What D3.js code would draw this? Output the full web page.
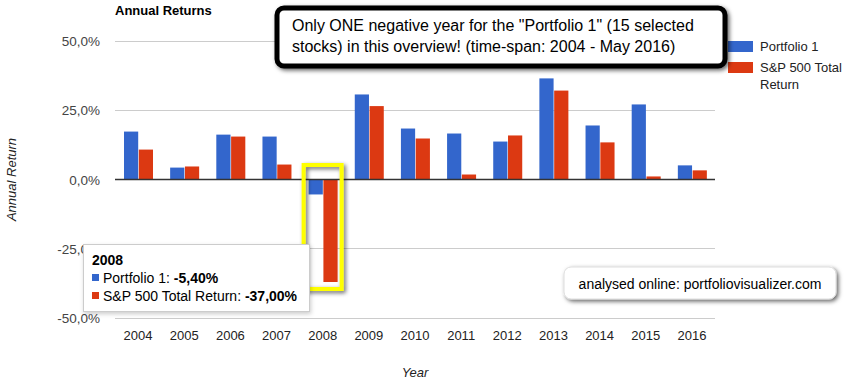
<!DOCTYPE html>
<html>
<head>
<meta charset="utf-8">
<script src="https://cdn.jsdelivr.net/npm/d3@7"></script>
<style>
body { margin: 0; background: #fff; }
svg { font-family: Arial, "Liberation Sans", sans-serif; }
</style>
</head>
<body>
<svg width="847" height="381"></svg>
<script>
var years = ["2004","2005","2006","2007","2008","2009","2010","2011","2012","2013","2014","2015","2016"];
var seriesNames = ["Portfolio 1", "S&P 500 Total Return"];
var portfolio = [17.3, 4.3, 16.2, 15.5, -5.4, 30.7, 18.4, 16.6, 13.7, 36.5, 19.5, 27.1, 5.1];
var sp500 = [10.8, 4.7, 15.5, 5.4, -37.0, 26.5, 14.8, 1.8, 15.9, 32.1, 13.4, 1.1, 3.3];
var yTicks = [-50, -25, 0, 25, 50];
var colors = ["#3366cc", "#dc3912"];

function pct(v, digits) {
	// comma decimal, plain hyphen for minus
	return d3.format("." + digits + "f")(v).replace(".", ",").replace("\u2212", "-") + "%";
}

function drawChart() {
	var svg = d3.select("svg");
	var left = 115, right = 715, top = 41, bottom = 318;

	var defs = svg.append("defs");
	var f = defs.append("filter").attr("id", "shadow").attr("x", "-10%").attr("y", "-20%").attr("width", "130%").attr("height", "160%");
	f.append("feDropShadow").attr("dx", 2).attr("dy", 2).attr("stdDeviation", 2).attr("flood-color", "#000").attr("flood-opacity", 0.6);
	var f2 = defs.append("filter").attr("id", "tipshadow").attr("x", "-10%").attr("y", "-20%").attr("width", "130%").attr("height", "160%");
	f2.append("feDropShadow").attr("dx", 1).attr("dy", 2).attr("stdDeviation", 2).attr("flood-color", "#000").attr("flood-opacity", 0.2);

	var x = d3.scaleBand().domain(years).range([left, right]).padding(0);
	var x1 = d3.scaleBand().domain(seriesNames).range([9, 38]).paddingInner(0.04);
	var y = d3.scaleLinear().domain([-50, 50]).range([bottom, top]);

	// gridlines
	svg.append("g").selectAll("line").data(yTicks).enter().append("line")
		.attr("x1", left).attr("x2", right)
		.attr("y1", function(d) { return y(d); }).attr("y2", function(d) { return y(d); })
		.attr("stroke", "#ccc")
		.attr("shape-rendering", "crispEdges");

	// y labels
	svg.append("g").selectAll("text").data(yTicks).enter().append("text")
		.attr("x", 100).attr("y", function(d) { return y(d) + 5; })
		.attr("text-anchor", "end").attr("font-size", 13.5).attr("fill", "#444")
		.text(function(d) { return pct(d, 1); });

	// x labels
	svg.append("g").selectAll("text").data(years).enter().append("text")
		.attr("x", function(d) { return x(d) + x.bandwidth() / 2; }).attr("y", 340)
		.attr("text-anchor", "middle").attr("font-size", 13).attr("fill", "#222")
		.text(function(d) { return d; });

	// bars
	var data = [];
	for (var i = 0; i < years.length; i++) {
		data.push({ year: years[i], s: seriesNames[0], v: portfolio[i], c: colors[0] });
		data.push({ year: years[i], s: seriesNames[1], v: sp500[i], c: colors[1] });
	}
	svg.append("g").selectAll("rect").data(data).enter().append("rect")
		.attr("x", function(d) { return x(d.year) + x1(d.s); })
		.attr("width", x1.bandwidth())
		.attr("y", function(d) { return y(Math.max(0, d.v)); })
		.attr("height", function(d) { return Math.abs(y(d.v) - y(0)); })
		.attr("fill", function(d) { return d.c; });

	// zero line on top
	svg.append("line").attr("x1", left).attr("x2", right).attr("y1", y(0)).attr("y2", y(0))
		.attr("stroke", "#333").attr("stroke-width", 1.5);

	// title
	svg.append("text").attr("x", 115).attr("y", 15).attr("font-size", 13).attr("font-weight", "bold")
		.attr("fill", "#000").text("Annual Returns");

	// axis titles
	svg.append("text").attr("transform", "translate(16," + y(0) + ") rotate(-90)")
		.attr("text-anchor", "middle").attr("font-size", 13).attr("font-style", "italic").attr("fill", "#222")
		.text("Annual Return");
	svg.append("text").attr("x", 415).attr("y", 377).attr("text-anchor", "middle")
		.attr("font-size", 13).attr("font-style", "italic").attr("fill", "#222").text("Year");

	// legend
	var lg = svg.append("g");
	lg.append("rect").attr("x", 728).attr("y", 41).attr("width", 25).attr("height", 11).attr("fill", colors[0]);
	lg.append("text").attr("x", 760).attr("y", 51).attr("font-size", 13).attr("fill", "#222").text(seriesNames[0]);
	lg.append("rect").attr("x", 728).attr("y", 62).attr("width", 25).attr("height", 11).attr("fill", colors[1]);
	lg.append("text").attr("x", 760).attr("y", 72).attr("font-size", 13).attr("fill", "#222").text("S&P 500 Total");
	lg.append("text").attr("x", 760).attr("y", 89).attr("font-size", 13).attr("fill", "#222").text("Return");

	// yellow highlight around 2008
	var hx = x("2008");
	svg.append("rect").attr("x", hx + 4).attr("y", 165).attr("width", 38).attr("height", 124)
		.attr("fill", "none").attr("stroke", "#ffff00").attr("stroke-width", 4)
		.attr("filter", "url(#shadow)");

	// callout box
	var cb = svg.append("g");
	cb.append("rect").attr("x", 277).attr("y", 8).attr("width", 448).attr("height", 58).attr("rx", 7)
		.attr("fill", "#fff").attr("stroke", "#000").attr("stroke-width", 5).attr("filter", "url(#shadow)");
	cb.append("text").attr("x", 292).attr("y", 31).attr("font-size", 16).attr("fill", "#000")
		.text("Only ONE negative year for the \"Portfolio 1\" (15 selected");
	cb.append("text").attr("x", 292).attr("y", 52).attr("font-size", 16).attr("fill", "#000")
		.text("stocks) in this overview! (time-span: 2004 - May 2016)");

	// tooltip
	var tip = svg.append("g");
	tip.append("rect").attr("x", 83.5).attr("y", 244.5).attr("width", 226).attr("height", 67)
		.attr("fill", "#fff").attr("stroke", "#ccc").attr("filter", "url(#tipshadow)");
	tip.append("text").attr("x", 92).attr("y", 265).attr("font-size", 14).attr("font-weight", "bold").attr("fill", "#000").text("2008");
	tip.append("rect").attr("x", 92).attr("y", 274).attr("width", 7).attr("height", 7).attr("fill", colors[0]);
	var t1 = tip.append("text").attr("x", 103).attr("y", 283).attr("font-size", 14).attr("fill", "#000");
	t1.append("tspan").text("Portfolio 1: ");
	t1.append("tspan").attr("font-weight", "bold").text(pct(portfolio[4], 2));
	tip.append("rect").attr("x", 92).attr("y", 292).attr("width", 7).attr("height", 7).attr("fill", colors[1]);
	var t2 = tip.append("text").attr("x", 103).attr("y", 301).attr("font-size", 14).attr("fill", "#000");
	t2.append("tspan").text("S&P 500 Total Return: ");
	t2.append("tspan").attr("font-weight", "bold").text(pct(sp500[4], 2));

	// analysed box
	var ab = svg.append("g");
	ab.append("rect").attr("x", 564).attr("y", 267).attr("width", 272).attr("height", 32).attr("rx", 7)
		.attr("fill", "#fff").attr("stroke", "#ddd").attr("stroke-width", 1).attr("filter", "url(#shadow)");
	ab.append("text").attr("x", 700).attr("y", 289).attr("text-anchor", "middle").attr("font-size", 14)
		.attr("fill", "#000").text("analysed online: portfoliovisualizer.com");
}
drawChart();
</script>
</body>
</html>
